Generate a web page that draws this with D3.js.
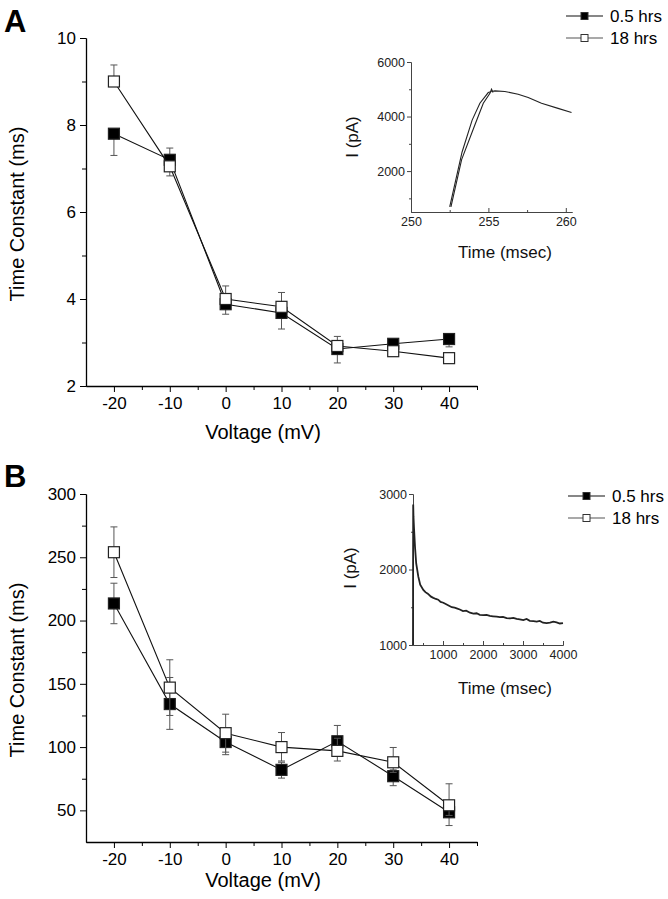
<!DOCTYPE html>
<html>
<head>
<meta charset="utf-8">
<script src="https://cdn.jsdelivr.net/npm/d3@7"></script>
<style>
  body { margin: 0; background: #fff; }
  svg { font-family: "Liberation Sans", Arial, sans-serif; }
  .axis path, .axis line { stroke: #000; }
  .inset path, .inset line { stroke: #444; }
</style>
</head>
<body>
<svg width="668" height="899"></svg>
<script>
// Voltage steps shared by both panels
var voltages = [-20, -10, 0, 10, 20, 30, 40];

// Panel A - activation time constants (ms)
var aFilled = [7.8, 7.2, 3.88, 3.68, 2.85, 2.97, 3.08];
var aFilledHi = [0, 0.27, 0, 0, 0, 0.05, 0];
var aFilledLo = [0.5, 0, 0.23, 0.37, 0.32, 0, 0.18];
var aOpen = [9.0, 7.05, 4.0, 3.82, 2.92, 2.80, 2.64];
var aOpenHi = [0.38, 0, 0.3, 0.33, 0.22, 0, 0];
var aOpenLo = [0, 0.22, 0, 0, 0, 0.05, 0.05];

// Panel B - inactivation time constants (ms)
var bFilled = [213.5, 134, 104, 82, 104.6, 77, 48.5];
var bFilledHi = [16, 21, 8, 6, 12.5, 5, 4];
var bFilledLo = [16, 20, 10, 6.5, 10, 7.5, 10.5];
var bOpen = [254, 147, 111, 100, 97, 88, 54];
var bOpenHi = [20, 22, 15, 11.5, 10, 11.7, 17];
var bOpenLo = [20, 22, 15, 11, 8, 8, 8];

// Inset A traces (time msec, current pA)
var insetA1 = [[252.5, 690], [253.3, 2700], [253.95, 3870], [254.45, 4490], [254.99, 4880], [255.2, 4920]];
var insetA2 = [[252.58, 690], [253.27, 2420], [254.13, 3700], [254.67, 4490], [255.1, 4850], [255.2, 5000], [255.3, 4880]];
var insetATail = [[255.2, 4920], [255.42, 4940], [256.06, 4920], [256.92, 4820], [257.57, 4700], [258.43, 4490], [259.5, 4300], [260.37, 4150]];

// Inset B trace (time msec, current pA)
var insetB = [[250, 1000], [252, 2000], [255, 2860], [262, 2700], [275, 2550], [300, 2300], [330, 2080], [383, 1905],
  [430, 1800], [508, 1730], [560, 1700], [620, 1680], [700, 1640], [758, 1625], [820, 1610], [880, 1600], [940, 1570],
  [1008, 1560], [1080, 1540], [1150, 1520], [1220, 1500], [1290, 1495], [1342, 1486], [1420, 1470], [1500, 1450],
  [1580, 1455], [1675, 1428], [1760, 1415], [1840, 1420], [1920, 1400], [2008, 1397], [2090, 1400], [2170, 1385],
  [2250, 1380], [2342, 1375], [2420, 1368], [2500, 1372], [2590, 1355], [2675, 1353], [2760, 1360], [2840, 1345],
  [2920, 1340], [3008, 1331], [3090, 1345], [3170, 1320], [3260, 1315], [3342, 1310], [3420, 1318], [3500, 1295],
  [3590, 1290], [3675, 1296], [3760, 1310], [3840, 1300], [3920, 1285], [4000, 1290]];

var seriesNames = ["0.5 hrs", "18 hrs"];

// plain labels: hyphen minus, no thousands separator
var plain = function(d) { return String(d); };

var svg = d3.select("svg");
svg.append("rect").attr("width", 668).attr("height", 899).attr("fill", "#fff");

// Voltage axis is the same for both panels
var x = d3.scaleLinear().domain([-25, 45]).range([86, 477]);

function mainPanel(opts) {
  var y = d3.scaleLinear().domain(opts.yDomain).range(opts.yRange);
  var g = svg.append("g");
  var y0 = opts.yRange[0];

  // minor ticks
  g.append("g").attr("class", "axis").attr("transform", "translate(0," + y0 + ")")
    .call(d3.axisBottom(x).tickValues([-15, -5, 5, 15, 25, 35, 45]).tickSize(4).tickSizeOuter(0).tickFormat(""));
  g.append("g").attr("class", "axis").attr("transform", "translate(86,0)")
    .call(d3.axisLeft(y).tickValues(opts.yMinor).tickSize(4).tickSizeOuter(0).tickFormat(""));

  // major ticks
  var xa = g.append("g").attr("class", "axis").attr("transform", "translate(0," + y0 + ")")
    .call(d3.axisBottom(x).tickValues(voltages).tickSize(6).tickSizeOuter(0).tickPadding(5).tickFormat(plain));
  var ya = g.append("g").attr("class", "axis").attr("transform", "translate(86,0)")
    .call(d3.axisLeft(y).tickValues(opts.yTicks).tickSize(6).tickSizeOuter(0).tickPadding(4).tickFormat(plain));
  [xa, ya].forEach(function(a) {
    a.selectAll("text").attr("font-size", 17).attr("fill", "#000").style("font-family", "Liberation Sans, Arial");
    a.select(".domain").attr("stroke-width", 1.3);
  });

  g.append("text").attr("x", 263).attr("y", opts.xLabelY).attr("text-anchor", "middle")
    .attr("font-size", 20).text("Voltage (mV)");
  g.append("text").attr("transform", "translate(24," + ((opts.yRange[0] + opts.yRange[1]) / 2 + 2) + ") rotate(-90)")
    .attr("text-anchor", "middle").attr("font-size", 20).text("Time Constant (ms)");
  g.append("text").attr("x", 4).attr("y", opts.letterY).attr("font-size", 31).attr("font-weight", "bold").text(opts.letter);

  var line = d3.line().x(function(d) { return x(d[0]); }).y(function(d) { return y(d[1]); });

  // series order: filled first, open on top
  opts.series.forEach(function(s) {
    var pts = voltages.map(function(v, i) { return [v, s.values[i]]; });
    g.append("path").datum(pts).attr("d", line).attr("fill", "none").attr("stroke", "#111").attr("stroke-width", 1.1);

    var eg = g.append("g").attr("stroke", "#555").attr("stroke-width", 1);
    voltages.forEach(function(v, i) {
      var val = s.values[i];
      [[s.hi[i], 1], [s.lo[i], -1]].forEach(function(e) {
        if (e[0] <= 0) return;
        var ye = y(val + e[1] * e[0]);
        eg.append("line").attr("x1", x(v)).attr("x2", x(v)).attr("y1", y(val)).attr("y2", ye);
        eg.append("line").attr("x1", x(v) - 3.5).attr("x2", x(v) + 3.5).attr("y1", ye).attr("y2", ye);
      });
    });

    g.selectAll(null).data(pts).enter().append("rect")
      .attr("x", function(d) { return x(d[0]) - 5.5; })
      .attr("y", function(d) { return y(d[1]) - 5.5; })
      .attr("width", 11).attr("height", 11)
      .attr("fill", s.fill).attr("stroke", "#222").attr("stroke-width", 1.2);
  });

  // legend
  seriesNames.forEach(function(name, i) {
    var ly = opts.legendY + i * 22;
    var lx = opts.legendX;
    g.append("line").attr("x1", lx).attr("x2", lx + 37).attr("y1", ly).attr("y2", ly)
      .attr("stroke", i === 0 ? "#111" : "#555").attr("stroke-width", 1.2);
    g.append("rect").attr("x", lx + 18.5 - 3.5).attr("y", ly - 3.5).attr("width", 7).attr("height", 7)
      .attr("fill", i === 0 ? "#000" : "#fff").attr("stroke", "#333").attr("stroke-width", 1);
    g.append("text").attr("x", lx + 44).attr("y", ly + 6).attr("font-size", 17).text(name);
  });
}

function inset(opts) {
  var ix = d3.scaleLinear().domain(opts.xDomain).range(opts.xRange);
  var iy = d3.scaleLinear().domain(opts.yDomain).range(opts.yRange);
  var g = svg.append("g");
  var bx = opts.xRange[0], by = opts.yRange[0];

  g.append("g").attr("class", "inset").attr("transform", "translate(0," + by + ")")
    .call(d3.axisTop(ix).tickValues(opts.xMinor).tickSize(2).tickSizeOuter(0).tickFormat(""));
  var xa = g.append("g").attr("class", "inset").attr("transform", "translate(0," + by + ")")
    .call(d3.axisBottom(ix).tickValues(opts.xTicks).tickSize(0).tickSizeOuter(0).tickPadding(5).tickFormat(plain));
  xa.selectAll(".tick").append("line").attr("y2", -4).attr("stroke", "#444");
  g.append("g").attr("class", "inset").attr("transform", "translate(" + bx + ",0)")
    .call(d3.axisLeft(iy).tickValues(opts.yMinor).tickSize(2).tickSizeOuter(0).tickFormat(""));
  var ya = g.append("g").attr("class", "inset").attr("transform", "translate(" + bx + ",0)")
    .call(d3.axisLeft(iy).tickValues(opts.yTicks).tickSize(4).tickSizeOuter(0).tickPadding(2).tickFormat(plain));
  [xa, ya].forEach(function(a) {
    a.selectAll("text").attr("font-size", 12.5).attr("fill", "#222").style("font-family", "Liberation Sans, Arial");
  });

  g.append("text").attr("x", 505).attr("y", opts.xLabelY).attr("text-anchor", "middle")
    .attr("font-size", 17).attr("fill", "#111").text("Time (msec)");
  g.append("text").attr("transform", "translate(" + opts.yLabelX + "," + opts.yLabelY + ") rotate(-90)")
    .attr("text-anchor", "middle").attr("font-size", 17).attr("fill", "#111").text("I (pA)");

  var line = d3.line().x(function(d) { return ix(d[0]); }).y(function(d) { return iy(d[1]); });
  opts.traces.forEach(function(t) {
    g.append("path").datum(t).attr("d", line).attr("fill", "none")
      .attr("stroke", "#222").attr("stroke-width", opts.traceWidth);
  });
}

mainPanel({
  letter: "A", letterY: 32,
  yDomain: [2, 10], yRange: [386, 38],
  yTicks: [2, 4, 6, 8, 10], yMinor: [3, 5, 7, 9],
  xLabelY: 439,
  series: [
    { values: aFilled, hi: aFilledHi, lo: aFilledLo, fill: "#000" },
    { values: aOpen, hi: aOpenHi, lo: aOpenLo, fill: "#fff" }
  ],
  legendX: 566, legendY: 16
});

mainPanel({
  letter: "B", letterY: 487,
  yDomain: [25, 300], yRange: [842, 494],
  yTicks: [50, 100, 150, 200, 250, 300], yMinor: [75, 125, 175, 225, 275],
  xLabelY: 887,
  series: [
    { values: bFilled, hi: bFilledHi, lo: bFilledLo, fill: "#000" },
    { values: bOpen, hi: bOpenHi, lo: bOpenLo, fill: "#fff" }
  ],
  legendX: 568, legendY: 496
});

inset({
  xDomain: [250, 260.4], xRange: [411, 572],
  yDomain: [500, 6000], yRange: [212, 62],
  xTicks: [250, 255, 260], xMinor: [252.5, 257.5],
  yTicks: [2000, 4000, 6000], yMinor: [1000, 3000, 5000],
  xLabelY: 258, yLabelX: 358, yLabelY: 137,
  traces: [insetA1, insetA2, insetATail], traceWidth: 1.1
});

inset({
  xDomain: [250, 4000], xRange: [413, 563],
  yDomain: [1000, 3000], yRange: [645, 494],
  xTicks: [1000, 2000, 3000, 4000], xMinor: [500, 1500, 2500, 3500],
  yTicks: [1000, 2000, 3000], yMinor: [1500, 2500],
  xLabelY: 694, yLabelX: 356, yLabelY: 568,
  traces: [insetB], traceWidth: 1.8
});
</script>
</body>
</html>
